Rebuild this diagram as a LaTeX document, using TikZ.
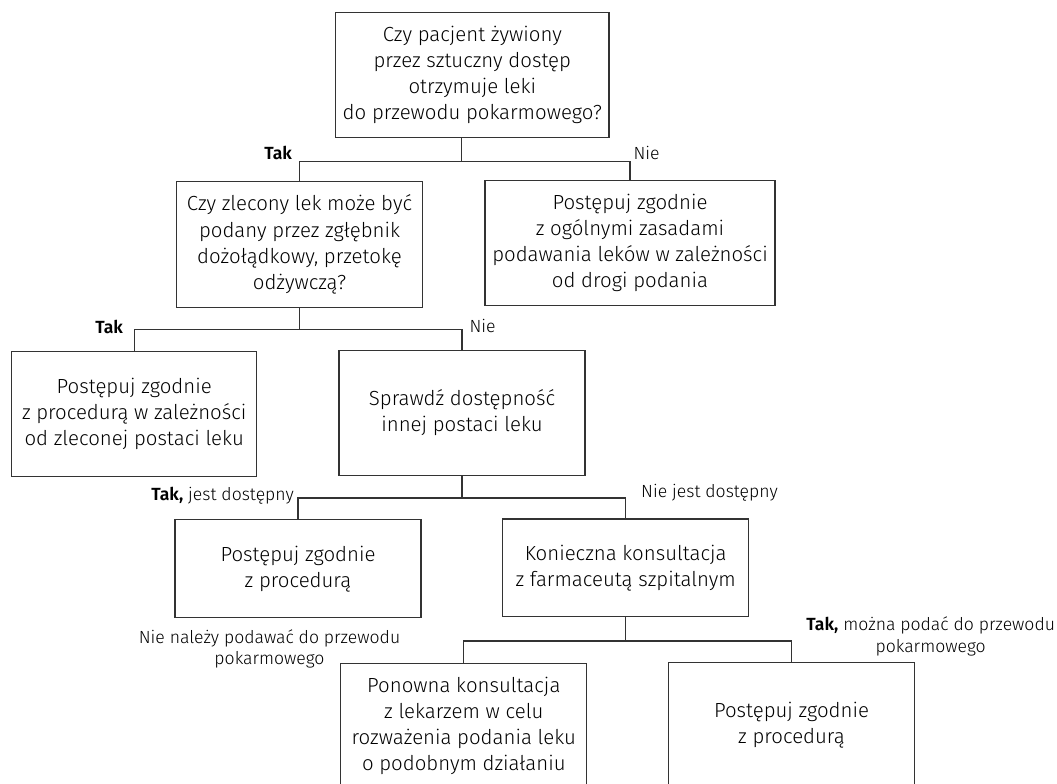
\documentclass[tikz,border=0pt]{standalone}
\usepackage{fontspec}
\setmainfont{Fira Sans}[UprightFont={* Light},BoldFont={* SemiBold}]
\usetikzlibrary{calc}
\tikzset{
  box/.style={draw=black!80,line width=1.1pt,align=center,inner sep=0pt,text=black,
    minimum width=246pt,minimum height=125.4pt,font=\fontsize{20.4}{26.2}\selectfont},
  lbl/.style={inner sep=0pt,text=black,align=center,font=\fontsize{17.6}{21.3}\selectfont},
  wire/.style={draw=black!80,line width=1.1pt},
}
\begin{document}
\begin{tikzpicture}[x=1pt,y=-1pt]
\useasboundingbox (0,0) rectangle (1057,784);
\clip (0,0) rectangle (1057,784);
\node[box,minimum width=273.3pt] (pytanie) at (472.3,75) {Czy pacjent żywiony\\przez sztuczny dostęp\\otrzymuje leki\\do przewodu pokarmowego?};
\node[box] (zglebnik) at (299.5,244.5) {Czy zlecony lek może być\\podany przez zgłębnik\\dożołądkowy, przetokę\\odżywczą?};
\node[box,minimum width=290pt] (ogolne) at (630,243) {Postępuj zgodnie\\z ogólnymi zasadami\\podawania leków w zależności\\od drogi podania};
\node[box,minimum width=245pt] (zlecona) at (134.2,414.2) {Postępuj zgodnie\\z procedurą w zależności\\od zleconej postaci leku};
\node[box] (sprawdz) at (462,412.9) {Sprawdź dostępność\\innej postaci leku};
\node[box,minimum height=98.2pt] (proc) at (298,568.8) {Postępuj zgodnie\\z procedurą};
\node[box,minimum height=97.7pt] (farm) at (625.7,567.8) {Konieczna konsultacja\\z farmaceutą szpitalnym};
\node[box] (lekarz) at (463.8,726) {Ponowna konsultacja\\z lekarzem w celu\\rozważenia podania leku\\o podobnym działaniu};
\node[box] (procb) at (791.5,725) {Postępuj zgodnie\\z procedurą};
\draw[wire] ([xshift=-10.6pt]pytanie.south) -- ++(0,23.3) coordinate (r1);
\draw[wire] (zglebnik.north) |- (r1) -| (ogolne.north);
\draw[wire] (zglebnik.south) -- ++(0,22) coordinate (r2);
\draw[wire] (zlecona.north) |- (r2) -| (sprawdz.north);
\draw[wire] (sprawdz.south) -- ++(0,21.8) coordinate (r3);
\draw[wire] (proc.north) |- (r3) -| (farm.north);
\draw[wire] (farm.south) -- ++(0,23.8) coordinate (r4);
\draw[wire] (lekarz.north) |- (r4) -| (procb.north);
\node[lbl,anchor=east] (tak1) at (292.3,153.3) {\textbf{Tak}};
\node[lbl,anchor=west] (nie1) at (633.3,153.3) {Nie};
\node[lbl,anchor=east] (tak2) at (123.3,327.3) {\textbf{Tak}};
\node[lbl,anchor=west] (nie2) at (469.3,325.5) {Nie};
\node[lbl,anchor=east] (tak3) at (294,496) {\textbf{Tak,} jest dostępny};
\node[lbl,anchor=west] (nie3) at (641,492.7) {Nie jest dostępny};
\node[lbl] (nie4) at (269.5,648.8) {Nie należy podawać do przewodu\\pokarmowego};
\node[lbl] (tak4) at (930.7,636.3) {\textbf{Tak,} można podać do przewodu\\pokarmowego};
\end{tikzpicture}
\end{document}
